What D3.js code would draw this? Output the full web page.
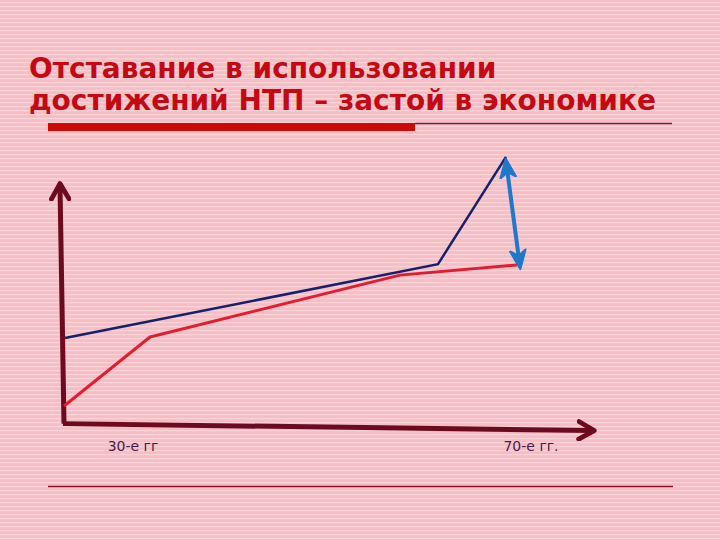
<!DOCTYPE html>
<html><head><meta charset="utf-8">
<script src="https://cdn.jsdelivr.net/npm/d3@7"></script>
<style>html,body{margin:0;padding:0;background:#F5BEC4;}svg{display:block;}</style>
</head><body>
<script>
// ---- data ----
const titleLines = ["Отставание в использовании", "достижений НТП – застой в экономике"];
const xLabels = ["30-е гг", "70-е гг."];
const xLabelPos = [14.5, 94.1];
const blueX = [1, 75.6, 89.2];
const blueY = [31.6, 58.5, 97.5];
const redX = [0.8, 18, 68, 91.4];
const redY = [6.9, 32, 54.5, 58.2];
const gapFrom = [89.2, 96];
const gapTo = [92, 57.5];
const axisX = [[0.6, 0.5], [106.4, -2]];   // x-axis start/end (hand drawn slant)
const axisY = [[0.8, 0.5], [0, 87]];       // y-axis start/end

const W = 720, H = 540;
const svg = d3.select("body").append("svg").attr("width", W).attr("height", H);
const defs = svg.append("defs");
const pat = defs.append("pattern").attr("id", "stripes").attr("patternUnits", "userSpaceOnUse")
  .attr("width", 8).attr("height", 4);
pat.append("rect").attr("width", 8).attr("height", 4).attr("fill", "#F5BEC4");
pat.append("rect").attr("y", 2).attr("width", 8).attr("height", 1.2).attr("fill", "#F9D3D7");
svg.append("rect").attr("width", W).attr("height", H).attr("fill", "url(#stripes)");

// markers
defs.append("marker").attr("id", "axArrow").attr("viewBox", "0 0 10 10").attr("refX", 7).attr("refY", 5)
  .attr("markerWidth", 22).attr("markerHeight", 22).attr("orient", "auto-start-reverse")
  .attr("markerUnits", "userSpaceOnUse")
  .append("path").attr("d", "M1,1 L8,5 L1,9").attr("fill", "none").attr("stroke", "#6E0A1E")
  .attr("stroke-width", 2.2).attr("stroke-linecap", "round").attr("stroke-linejoin", "round");
defs.append("marker").attr("id", "blArrow").attr("viewBox", "0 0 10 10").attr("refX", 8).attr("refY", 5)
  .attr("markerWidth", 22).attr("markerHeight", 22).attr("orient", "auto-start-reverse")
  .attr("markerUnits", "userSpaceOnUse")
  .append("path").attr("d", "M0.5,1.5 L9,5 L0.5,8.5 L3,5 Z").attr("fill", "#1F78C9").attr("stroke", "#1F78C9")
  .attr("stroke-width", 1).attr("stroke-linejoin", "round");

// title
const title = svg.append("g").attr("font-family", "DejaVu Sans").attr("font-weight", "bold")
  .attr("font-size", 28).attr("fill", "#C30A14");
title.selectAll("text").data(titleLines).join("text")
  .attr("x", 29).attr("y", (d, i) => 78 + i * 32).text(d => d);

// rules
svg.append("rect").attr("x", 48).attr("y", 123).attr("width", 367).attr("height", 8).attr("fill", "#CC0A0A");
svg.append("line").attr("x1", 415).attr("x2", 672).attr("y1", 123.5).attr("y2", 123.5)
  .attr("stroke", "#8E1424").attr("stroke-width", 1.3);
svg.append("line").attr("x1", 48).attr("x2", 673).attr("y1", 486.5).attr("y2", 486.5)
  .attr("stroke", "#8E1424").attr("stroke-width", 1.3);

// scales
const x = d3.scaleLinear().domain([0, 100]).range([60, 560]);
const y = d3.scaleLinear().domain([0, 100]).range([425, 150]);

const line = d3.line().x(d => x(d[0])).y(d => y(d[1]));

// axes
svg.append("path").attr("d", line(axisY)).attr("fill", "none").attr("stroke", "#6E0A1E")
  .attr("stroke-width", 5).attr("marker-end", "url(#axArrow)");
svg.append("path").attr("d", line(axisX)).attr("fill", "none").attr("stroke", "#6E0A1E")
  .attr("stroke-width", 5).attr("marker-end", "url(#axArrow)");

// x labels via axis
const ax = d3.axisBottom(x).tickValues(xLabelPos).tickSize(0).tickFormat((d, i) => xLabels[i]);
const axg = svg.append("g").attr("transform", "translate(0,438)").call(ax);
axg.select(".domain").remove();
axg.selectAll("text").attr("font-family", "DejaVu Sans").attr("font-size", 14).attr("fill", "#4A1A4C");

// series
svg.append("path").datum(redX.map((v, i) => [v, redY[i]])).attr("d", line)
  .attr("fill", "none").attr("stroke", "#E01E32").attr("stroke-width", 3).attr("stroke-linejoin", "round");
svg.append("path").datum(blueX.map((v, i) => [v, blueY[i]])).attr("d", line)
  .attr("fill", "none").attr("stroke", "#17206A").attr("stroke-width", 2.5).attr("stroke-linejoin", "miter");

// gap arrow
svg.append("path").attr("d", line([gapFrom, gapTo])).attr("fill", "none").attr("stroke", "#1F78C9")
  .attr("stroke-width", 4).attr("marker-start", "url(#blArrow)").attr("marker-end", "url(#blArrow)");
</script>
</body></html>
